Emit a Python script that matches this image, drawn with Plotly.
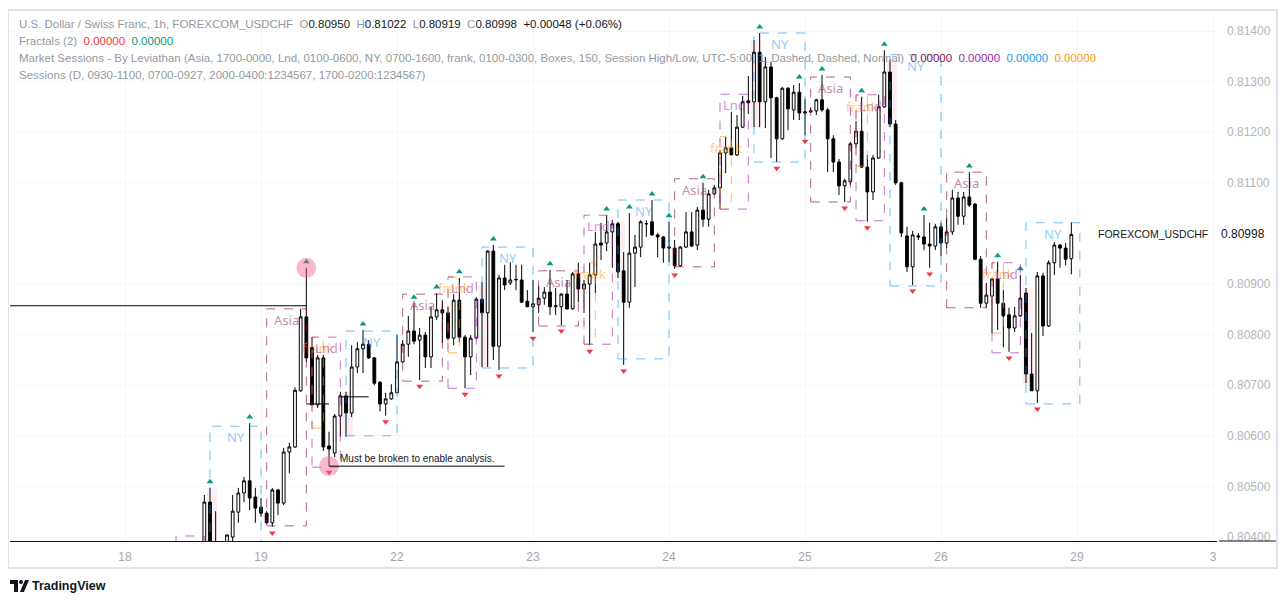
import plotly.graph_objects as go

# hourly USDCHF bars, bar 0 = first hour of the 18th (weekend gap removed)
bar_start = 9
opens = [
    0.80380, 0.80360, 0.80390, 0.80365, 0.80350, 0.80364, 0.80469, 0.80380, 0.80385, 0.80380,
    0.80400, 0.80449, 0.80487, 0.80511, 0.80479, 0.80459, 0.80447, 0.80428, 0.80493, 0.80467,
    0.80568, 0.80578, 0.80689, 0.80835, 0.80774, 0.80661, 0.80754, 0.80580, 0.80566, 0.80639,
    0.80679, 0.80645, 0.80736, 0.80772, 0.80781, 0.80754, 0.80706, 0.80663, 0.80673, 0.80685,
    0.80746, 0.80781, 0.80807, 0.80789, 0.80799, 0.80756, 0.80835, 0.80849, 0.80843, 0.80793,
    0.80868, 0.80795, 0.80756, 0.80793, 0.80870, 0.80843, 0.80965, 0.80777, 0.80912, 0.80902,
    0.80908, 0.80908, 0.80866, 0.80855, 0.80859, 0.80872, 0.80884, 0.80855, 0.80855, 0.80880,
    0.80851, 0.80920, 0.80890, 0.80900, 0.80918, 0.80981, 0.80981, 0.81003, 0.81019, 0.80926,
    0.80864, 0.80961, 0.80973, 0.81019, 0.81023, 0.80997, 0.80993, 0.80971, 0.80971, 0.80936,
    0.80973, 0.81003, 0.80977, 0.81046, 0.81028, 0.81078, 0.81090, 0.81159, 0.81169, 0.81155,
    0.81210, 0.81262, 0.81260, 0.81358, 0.81260, 0.81329, 0.81268, 0.81187, 0.81287, 0.81244,
    0.81279, 0.81238, 0.81240, 0.81242, 0.81264, 0.81244, 0.81187, 0.81141, 0.81094, 0.81102,
    0.81177, 0.81202, 0.81131, 0.81082, 0.81149, 0.81250, 0.81319, 0.81216, 0.81100, 0.80995,
    0.80934, 0.80995, 0.80993, 0.80979, 0.80975, 0.81013, 0.80981, 0.81003, 0.81070, 0.81034,
    0.81072, 0.81058, 0.80949, 0.80862, 0.80876, 0.80910, 0.80862, 0.80839, 0.80813, 0.80837,
    0.80882, 0.80722, 0.80689, 0.80916, 0.80817, 0.80942, 0.80977, 0.80971, 0.80950,
]
highs = [
    0.80385, 0.80390, 0.80388, 0.80380, 0.80375, 0.80483, 0.80497, 0.80451, 0.80382, 0.80405,
    0.80483, 0.80497, 0.80519, 0.80625, 0.80497, 0.80477, 0.80451, 0.80497, 0.80495, 0.80576,
    0.80586, 0.80696, 0.80851, 0.80932, 0.80795, 0.80760, 0.80760, 0.80608, 0.80643, 0.80687,
    0.80687, 0.80779, 0.80785, 0.80809, 0.80789, 0.80756, 0.80708, 0.80685, 0.80702, 0.80799,
    0.80789, 0.80837, 0.80862, 0.80813, 0.80805, 0.80855, 0.80882, 0.80868, 0.80855, 0.80880,
    0.80912, 0.80799, 0.80799, 0.80874, 0.80904, 0.80967, 0.80977, 0.80918, 0.80938, 0.80943,
    0.80938, 0.80938, 0.80888, 0.80908, 0.80896, 0.80894, 0.80928, 0.80892, 0.80882, 0.80908,
    0.80924, 0.80942, 0.80908, 0.80942, 0.81003, 0.81021, 0.81036, 0.81026, 0.81023, 0.80963,
    0.81040, 0.80997, 0.81026, 0.81026, 0.81066, 0.81001, 0.80995, 0.81023, 0.80987, 0.80975,
    0.81042, 0.81042, 0.81052, 0.81100, 0.81086, 0.81096, 0.81165, 0.81191, 0.81240, 0.81234,
    0.81272, 0.81311, 0.81382, 0.81396, 0.81349, 0.81339, 0.81270, 0.81289, 0.81289, 0.81293,
    0.81297, 0.81266, 0.81248, 0.81266, 0.81313, 0.81248, 0.81194, 0.81147, 0.81108, 0.81181,
    0.81222, 0.81270, 0.81155, 0.81155, 0.81274, 0.81362, 0.81343, 0.81224, 0.81102, 0.81013,
    0.81005, 0.81001, 0.81036, 0.81021, 0.81019, 0.81021, 0.81030, 0.81086, 0.81082, 0.81082,
    0.81121, 0.81060, 0.80955, 0.80902, 0.80912, 0.80944, 0.80888, 0.80853, 0.80855, 0.80918,
    0.80892, 0.80803, 0.80924, 0.80922, 0.80947, 0.80983, 0.80979, 0.80981, 0.81022,
]
lows = [
    0.80340, 0.80350, 0.80355, 0.80340, 0.80330, 0.80355, 0.80350, 0.80350, 0.80340, 0.80360,
    0.80390, 0.80428, 0.80469, 0.80453, 0.80428, 0.80440, 0.80426, 0.80420, 0.80443, 0.80463,
    0.80526, 0.80576, 0.80687, 0.80746, 0.80661, 0.80655, 0.80570, 0.80540, 0.80558, 0.80598,
    0.80598, 0.80637, 0.80724, 0.80724, 0.80752, 0.80700, 0.80648, 0.80640, 0.80671, 0.80685,
    0.80744, 0.80756, 0.80781, 0.80710, 0.80734, 0.80734, 0.80829, 0.80783, 0.80789, 0.80779,
    0.80785, 0.80694, 0.80720, 0.80791, 0.80736, 0.80736, 0.80750, 0.80730, 0.80888, 0.80898,
    0.80888, 0.80862, 0.80855, 0.80805, 0.80843, 0.80859, 0.80839, 0.80839, 0.80819, 0.80849,
    0.80849, 0.80864, 0.80843, 0.80779, 0.80882, 0.80947, 0.80965, 0.80932, 0.80912, 0.80740,
    0.80853, 0.80894, 0.80953, 0.80993, 0.80995, 0.80953, 0.80942, 0.80943, 0.80930, 0.80934,
    0.80971, 0.80973, 0.80967, 0.81013, 0.81013, 0.81076, 0.81048, 0.81119, 0.81155, 0.81153,
    0.81208, 0.81236, 0.81210, 0.81210, 0.81208, 0.81149, 0.81141, 0.81185, 0.81204, 0.81224,
    0.81224, 0.81194, 0.81238, 0.81234, 0.81240, 0.81121, 0.81121, 0.81076, 0.81062, 0.81096,
    0.81169, 0.81129, 0.81023, 0.81066, 0.81147, 0.81248, 0.81210, 0.81096, 0.80993, 0.80924,
    0.80898, 0.80987, 0.80967, 0.80932, 0.80967, 0.80955, 0.80971, 0.80997, 0.81017, 0.81017,
    0.81052, 0.80947, 0.80853, 0.80853, 0.80803, 0.80809, 0.80775, 0.80766, 0.80805, 0.80835,
    0.80704, 0.80689, 0.80665, 0.80797, 0.80815, 0.80918, 0.80932, 0.80937, 0.80919,
]
closes = [
    0.80360, 0.80370, 0.80365, 0.80350, 0.80365, 0.80469, 0.80370, 0.80385, 0.80375, 0.80404,
    0.80451, 0.80487, 0.80511, 0.80477, 0.80457, 0.80447, 0.80428, 0.80493, 0.80467, 0.80568,
    0.80578, 0.80690, 0.80835, 0.80754, 0.80661, 0.80754, 0.80578, 0.80574, 0.80639, 0.80679,
    0.80645, 0.80736, 0.80772, 0.80781, 0.80754, 0.80704, 0.80663, 0.80673, 0.80685, 0.80746,
    0.80781, 0.80807, 0.80787, 0.80799, 0.80756, 0.80835, 0.80849, 0.80843, 0.80793, 0.80868,
    0.80795, 0.80756, 0.80793, 0.80870, 0.80843, 0.80965, 0.80777, 0.80912, 0.80898, 0.80908,
    0.80909, 0.80864, 0.80855, 0.80861, 0.80872, 0.80884, 0.80855, 0.80857, 0.80880, 0.80851,
    0.80920, 0.80890, 0.80900, 0.80918, 0.80979, 0.80977, 0.81003, 0.81019, 0.80924, 0.80864,
    0.80961, 0.80973, 0.81023, 0.81019, 0.80997, 0.80993, 0.80971, 0.80973, 0.80936, 0.80973,
    0.81003, 0.80975, 0.81046, 0.81028, 0.81078, 0.81090, 0.81159, 0.81169, 0.81155, 0.81210,
    0.81260, 0.81258, 0.81358, 0.81260, 0.81329, 0.81268, 0.81187, 0.81287, 0.81246, 0.81279,
    0.81238, 0.81240, 0.81242, 0.81264, 0.81244, 0.81187, 0.81141, 0.81094, 0.81104, 0.81177,
    0.81202, 0.81131, 0.81082, 0.81149, 0.81250, 0.81319, 0.81216, 0.81100, 0.81001, 0.80934,
    0.80997, 0.80993, 0.80979, 0.80975, 0.81013, 0.80981, 0.81003, 0.81070, 0.81034, 0.81072,
    0.81056, 0.80949, 0.80862, 0.80878, 0.80910, 0.80862, 0.80837, 0.80813, 0.80837, 0.80872,
    0.80722, 0.80689, 0.80916, 0.80817, 0.80942, 0.80977, 0.80971, 0.80949, 0.80998,
]
bars = list(range(bar_start, bar_start + len(opens)))
assert len(opens) == len(highs) == len(lows) == len(closes)

# williams fractals seen on the chart
frac_up = [15, 22, 32, 42, 51, 55, 59, 65, 75, 85, 89, 93, 96, 102, 112, 119, 123, 130, 134, 141, 149, 154, 158]
frac_dn = [26, 36, 46, 52, 60, 66, 72, 77, 82, 88, 97, 115, 120, 127, 131, 139, 142, 156, 161]

# market sessions boxes
sess_name = ['Lnd', 'NY', 'Asia', 'frank', 'Lnd', 'NY', 'Asia', 'frank', 'Lnd', 'NY', 'Asia', 'frank', 'Lnd',
             'NY', 'Asia', 'frank', 'Lnd', 'NY', 'Asia', 'frank', 'Lnd', 'NY', 'Asia', 'frank', 'Lnd', 'NY']
sess_start = [9, 15, 25, 33, 33, 39, 49, 57, 57, 63, 73, 81, 81, 87, 97, 105, 105, 111, 121, 129, 129, 135, 145, 153, 153, 159]
sess_end = [14, 24, 32, 35, 38, 48, 56, 59, 62, 72, 80, 83, 86, 96, 104, 107, 110, 120, 128, 131, 134, 144, 152, 155, 158, 168.5]
sess_top = [0.80402, 0.80619, 0.80851, 0.80795, 0.80795, 0.80807, 0.80880, 0.80914, 0.80914, 0.80973, 0.80926, 0.80942, 0.81036,
            0.81066, 0.81108, 0.81191, 0.81275, 0.81396, 0.81309, 0.81272, 0.81274, 0.81353, 0.81121, 0.80942, 0.80942, 0.81021]
sess_bot = [0.80300, 0.80300, 0.80422, 0.80615, 0.80538, 0.80600, 0.80708, 0.80764, 0.80694, 0.80734, 0.80817, 0.80781, 0.80781,
            0.80752, 0.80934, 0.81048, 0.81048, 0.81141, 0.81062, 0.81133, 0.81025, 0.80896, 0.80853, 0.80803, 0.80764, 0.80663]
sess_color = {'Asia': (136, 14, 79), 'Lnd': (156, 39, 176), 'NY': (33, 150, 243), 'frank': (255, 152, 0)}

# drawings
level_line = 0.80857
level_end = 32
swing_high_bar = 32
swing_low_bar = 36
broken_end = 67
mid_lines = [(32, 36, 0.80663), (38.3, 43, 0.80677)]

# header values
last_o, last_h, last_l, last_c = opens[-1], highs[-1], lows[-1], closes[-1]

# page pixels of the plot area (page body has an 8px margin)
OFF = 8
W, H = 1286 - OFF, 604 - OFF
PL, PR, PT, PB = 10, 1217, 10, 541
step = 136 / 24.0
x0 = 125
y_lo = 0.814 - (PB - 31) / 50600.0
y_hi = 0.814 + (31 - PT) / 50600.0


def px(x):
    return (x - PL) / (PR - PL)


def py(y):
    return (PB - y) / (PB - PT)


def hi(i):
    return highs[i - bar_start]


def lo(i):
    return lows[i - bar_start]


fig = go.Figure()

fig.add_trace(go.Candlestick(
    x=bars, open=opens, high=highs, low=lows, close=closes,
    increasing=dict(line=dict(color='#000000', width=1), fillcolor='#ffffff'),
    decreasing=dict(line=dict(color='#000000', width=1), fillcolor='#000000'),
    whiskerwidth=0, hoverinfo='skip', showlegend=False,
))

fig.add_trace(go.Scatter(
    x=frac_up, y=[hi(i) + 0.00012 for i in frac_up], mode='markers',
    marker=dict(symbol='triangle-up', size=6, color='#089981'), showlegend=False, hoverinfo='skip'))
fig.add_trace(go.Scatter(
    x=frac_dn, y=[lo(i) - 0.00012 for i in frac_dn], mode='markers',
    marker=dict(symbol='triangle-down', size=6, color='#f23645'), showlegend=False, hoverinfo='skip'))

shapes = []
annos = []

# pink pre-NY shading
for n, s in zip(sess_name, sess_start):
    if n == 'NY':
        shapes.append(dict(type='rect', xref='x', yref='y', x0=s - 0.6, x1=s + 1.2, y0=lo(s), y1=hi(s),
                           fillcolor='rgba(242,54,69,0.09)', line=dict(width=0), layer='below'))

for n, s, e, t, b in zip(sess_name, sess_start, sess_end, sess_top, sess_bot):
    r, g, bl = sess_color[n]
    shapes.append(dict(type='rect', xref='x', yref='y', x0=s, x1=e, y0=b, y1=t,
                       line=dict(color='rgba(%d,%d,%d,0.65)' % (r, g, bl), width=1, dash='dash'),
                       fillcolor='rgba(0,0,0,0)'))
    if t - 0.0003 > y_lo:
        annos.append(dict(x=(s + e) / 2, y=t, xref='x', yref='y', text=n, showarrow=False, yshift=-11,
                          font=dict(family='Noto Sans', size=13, color='rgba(%d,%d,%d,0.5)' % (r, g, bl))))

# circles on swing points
for i, yv in [(swing_high_bar, hi(swing_high_bar)), (swing_low_bar, lo(swing_low_bar))]:
    shapes.append(dict(type='circle', xref='x', yref='y', x0=i - 1.75, x1=i + 1.75, y0=yv - 0.0002, y1=yv + 0.0002,
                       fillcolor='rgba(240,98,146,0.45)', line=dict(width=0)))

xr = [(PL - x0) / step, (PR - x0) / step]
shapes.append(dict(type='line', xref='x', yref='y', x0=xr[0], x1=level_end, y0=level_line, y1=level_line,
                   line=dict(color='#000000', width=1)))
shapes.append(dict(type='line', xref='x', yref='y', x0=swing_low_bar, x1=broken_end,
                   y0=lo(swing_low_bar), y1=lo(swing_low_bar), line=dict(color='#000000', width=1)))
for a, b, lv in mid_lines:
    shapes.append(dict(type='line', xref='x', yref='y', x0=a, x1=b, y0=lv, y1=lv, line=dict(color='#000000', width=1)))
annos.append(dict(x=swing_low_bar + 1.5, y=lo(swing_low_bar), xref='x', yref='y', xanchor='left', yshift=8,
                  text='Must be broken to enable analysis.', showarrow=False,
                  font=dict(family='Liberation Sans', size=10, color='#131722')))

# chart frame and axis line under the price scale
shapes.append(dict(type='rect', xref='paper', yref='paper', x0=px(8), x1=px(1277), y0=py(568), y1=py(10),
                   line=dict(color='#e0e3eb', width=2), layer='below'))
shapes.append(dict(type='line', xref='paper', yref='paper', x0=px(1219), x1=px(1276), y0=0, y1=0,
                   line=dict(color='#131722', width=1)))

# header legend
grey = '#9598a1'
blk = '#131722'
lines = [
    ("U.S. Dollar / Swiss Franc, 1h, FOREXCOM_USDCHF"
     "  O<span style='color:%s'>%.5f</span>  H<span style='color:%s'>%.5f</span>"
     "  L<span style='color:%s'>%.5f</span>  C<span style='color:%s'>%.5f</span>"
     "  <span style='color:%s'>+%.5f (+0.06%%)</span>"
     % (blk, last_o, blk, last_h, blk, last_l, blk, last_c, blk, last_c - last_o)),
    "Fractals (2)  <span style='color:#f23645'>0.00000</span>  <span style='color:#089981'>0.00000</span>",
    ("Market Sessions - By Leviathan (Asia, 1700-0000, Lnd, 0100-0600, NY, 0700-1600, frank, 0100-0300, Boxes, 150, "
     "Session High/Low, UTC-5:00, 1, Dashed, Dashed, Normal)  <span style='color:#880e4f'>0.00000</span>  "
     "<span style='color:#9c27b0'>0.00000</span>  <span style='color:#2196f3'>0.00000</span>  "
     "<span style='color:#ff9800'>0.00000</span>"),
    "Sessions (D, 0930-1100, 0700-0927, 2000-0400:1234567, 1700-0200:1234567)",
]
for k, t in enumerate(lines):
    annos.append(dict(x=px(17), y=py(24 + 17 * k), xref='paper', yref='paper', xanchor='left', yanchor='middle',
                      text=t, showarrow=False, font=dict(family='Liberation Sans', size=11.5, color=grey)))

annos.append(dict(x=px(1210), y=last_c, xref='paper', yref='y', xanchor='right', text='FOREXCOM_USDCHF',
                  showarrow=False, font=dict(family='Liberation Sans', size=10.5, color=blk)))
annos.append(dict(x=px(1267), y=last_c, xref='paper', yref='y', xanchor='right', text='%.5f' % last_c,
                  showarrow=False, bgcolor='#ffffff', font=dict(family='Liberation Sans', size=12, color=blk)))

# tradingview logo
shapes.append(dict(type='path', xref='paper', yref='paper',
                   path='M %f %f L %f %f L %f %f L %f %f L %f %f L %f %f Z' % (
                       px(10), py(580), px(18), py(580), px(18), py(592), px(14), py(592), px(14), py(584), px(10), py(584)),
                   fillcolor=blk, line=dict(width=0)))
shapes.append(dict(type='circle', xref='paper', yref='paper', x0=px(19), x1=px(23), y0=py(584), y1=py(580),
                   fillcolor=blk, line=dict(width=0)))
shapes.append(dict(type='path', xref='paper', yref='paper',
                   path='M %f %f L %f %f L %f %f L %f %f Z' % (px(20), py(592), px(25), py(580), px(29), py(580), px(24), py(592)),
                   fillcolor=blk, line=dict(width=0)))
annos.append(dict(x=px(30), y=py(586), xref='paper', yref='paper', xanchor='left', yanchor='middle',
                  text='<b>TradingView</b>', showarrow=False, font=dict(family='Liberation Sans', size=12.5, color=blk)))

tick_days = ['18', '19', '22', '23', '24', '25', '26', '29', '3']
tick_bars = [0, 24, 48, 72, 96, 120, 144, 168, 192]
# 0.81000 is hidden behind the last-price label on the reference
price_ticks = [0.804, 0.805, 0.806, 0.807, 0.808, 0.809, 0.811, 0.812, 0.813, 0.814]

fig.update_layout(
    width=W, height=H,
    margin=dict(l=PL - OFF, r=W - (PR - OFF), t=PT - OFF, b=H - (PB - OFF)),
    paper_bgcolor='#ffffff', plot_bgcolor='#ffffff',
    showlegend=False, hovermode=False,
    shapes=shapes, annotations=annos,
    xaxis=dict(range=xr, rangeslider=dict(visible=False), tickvals=tick_bars, ticktext=tick_days,
               showgrid=True, gridcolor='#f6f7f9', zeroline=False, showline=True, linecolor='#131722', linewidth=1,
               ticks='', ticklabelstandoff=5,
               tickfont=dict(family='Liberation Sans', size=12, color='#a3a6af')),
    yaxis=dict(range=[y_lo, y_hi], side='right',
               tickvals=price_ticks, tickformat='.5f', showgrid=True, gridcolor='#f6f7f9', zeroline=False,
               ticks='', ticklabelstandoff=9,
               tickfont=dict(family='Liberation Sans', size=12, color='#b2b5be')),
)

fig.write_html("out.html")
